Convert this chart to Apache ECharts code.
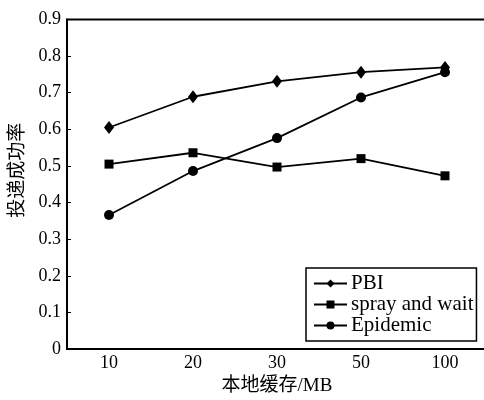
<!DOCTYPE html>
<html><head><meta charset="utf-8">
<script src="https://cdn.jsdelivr.net/npm/echarts@6/dist/echarts.min.js"></script>
<style>html,body{margin:0;padding:0;background:#fff}#c{width:484px;height:400px}</style>
</head><body><div id="c"></div>
<script>
const categories = ['10','20','30','50','100'];
const pbi = [0.605, 0.689, 0.731, 0.756, 0.769];
const sprayWait = [0.505, 0.536, 0.497, 0.520, 0.473];
const epidemic = [0.366, 0.486, 0.576, 0.687, 0.756];
const seriesNames = ['PBI', 'spray and wait', 'Epidemic'];
const xName = '本地缓存/MB';
const yName = '投递成功率';

const font = '"Liberation Serif", "Times New Roman", "Noto Sans CJK SC", serif';
const chart = echarts.init(document.getElementById('c'), null, {renderer: 'canvas'});
function ser(name, data, symbol, size) {
  return {
    name, type: 'line', data, symbol, symbolSize: size,
    lineStyle: {color: '#000', width: 1.8},
    itemStyle: {color: '#000'},
    animation: false
  };
}
chart.setOption({
  backgroundColor: '#fff',
  animation: false,
  grid: {left: 67, right: -3, top: 19.5, bottom: 51, outerBoundsMode: 'none', containLabel: false,
    show: true, borderColor: '#000', borderWidth: 2},
  xAxis: {
    type: 'category', data: categories, boundaryGap: true,
    name: xName, nameLocation: 'middle', nameGap: 28,
    nameTextStyle: {fontFamily: font, fontSize: 19, color: '#000'},
    axisLine: {lineStyle: {color: '#000', width: 2}},
    axisTick: {inside: true, alignWithLabel: true, length: 4, lineStyle: {color: '#000', width: 1}},
    axisLabel: {fontFamily: font, fontSize: 18, color: '#000', margin: 5},
    splitLine: {show: false}
  },
  yAxis: {
    type: 'value', min: 0, max: 0.9, interval: 0.1,
    name: yName, nameLocation: 'middle', nameGap: 38, nameRotate: 90,
    nameTextStyle: {fontFamily: font, fontSize: 19, color: '#000', padding: [0, 0, 0, 28]},
    axisLine: {show: true, lineStyle: {color: '#000', width: 2}},
    axisTick: {show: true, inside: true, length: 4, lineStyle: {color: '#000', width: 1}},
    axisLabel: {fontFamily: font, fontSize: 18, color: '#000', margin: 6,
      formatter: v => (Math.round(v * 10) / 10).toString()},
    splitLine: {show: false}
  },
  legend: {
    orient: 'vertical', left: 306, top: 268,
    data: seriesNames,
    borderColor: '#000', borderWidth: 1.5, borderRadius: 0,
    padding: [5, 3, 5, 7],
    itemGap: 0, itemWidth: 33, itemHeight: 10,
    textStyle: {fontFamily: font, fontSize: 21, color: '#000', lineHeight: 20, padding: [0, 0, 0, -1]}
  },
  series: [
    ser(seriesNames[0], pbi, 'diamond', [10, 13]),
    ser(seriesNames[1], sprayWait, 'rect', [9, 9]),
    ser(seriesNames[2], epidemic, 'circle', 10)
  ]
});
</script></body></html>
